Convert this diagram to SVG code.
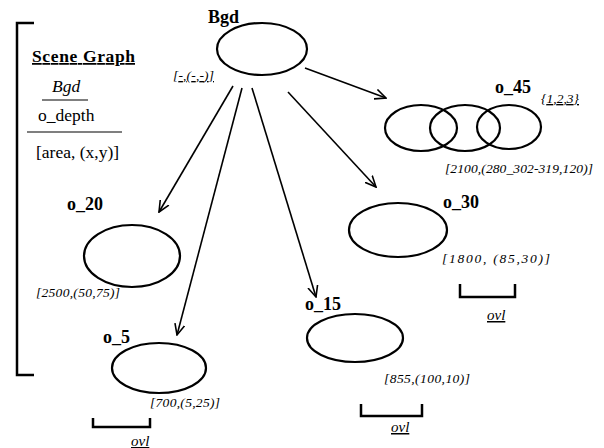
<svg xmlns="http://www.w3.org/2000/svg" width="604" height="448" viewBox="0 0 604 448">
<style>
.n{font-family:"Liberation Serif",serif;font-weight:bold;font-size:18px;fill:#000}
.c{font-family:"Liberation Serif",serif;font-style:italic;font-size:13.5px;fill:#000}
.e{fill:none;stroke:#000;stroke-width:2.2}
.k{fill:none;stroke:#000;stroke-width:2.5}
.a{fill:none;stroke:#000;stroke-width:1.6;marker-end:url(#ah)}
.l{font-family:"Liberation Serif",serif;font-size:17.5px;fill:#000}
.o{font-family:"Liberation Serif",serif;font-style:italic;font-size:15px;fill:#000;text-decoration:underline}
</style>
<defs>
<marker id="ah" viewBox="0 0 12 12" refX="11" refY="6" markerWidth="12" markerHeight="12" markerUnits="userSpaceOnUse" orient="auto">
<path d="M0,1 L11,6 L0,11" fill="none" stroke="#000" stroke-width="1.6"/>
</marker>
</defs>
<rect width="604" height="448" fill="#fff"/>
<g id="legend">
<path class="k" d="M34,23 H17 V375 H34"/>
<text class="l" x="32" y="62" font-weight="bold" text-decoration="underline" textLength="103">Scene Graph</text>
<text class="l" x="52" y="92" font-style="italic">Bgd</text>
<line x1="42" y1="100" x2="88" y2="100" stroke="#000" stroke-width="1.2"/>
<text class="l" x="38" y="121">o_depth</text>
<line x1="27" y1="132" x2="122" y2="132" stroke="#000" stroke-width="1.2"/>
<text class="l" x="36" y="158">[area, (x,y)]</text>
</g>
<g id="connectors">
<line class="a" x1="233" y1="86" x2="159" y2="212"/>
<line class="a" x1="242" y1="88" x2="177" y2="335"/>
<line class="a" x1="252" y1="88" x2="316" y2="297"/>
<line class="a" x1="288" y1="92" x2="376" y2="187"/>
<line class="a" x1="305" y1="68" x2="386" y2="98"/>
</g>
<g id="Bgd">
<ellipse class="e" cx="262" cy="49" rx="45" ry="26"/>
<text class="n" x="208" y="23">Bgd</text>
<text class="c" x="173" y="80" text-decoration="underline" textLength="41">[-,(-,-)]</text>
</g>
<g id="o_45">
<ellipse class="e" cx="421" cy="128" rx="36" ry="23"/>
<ellipse class="e" cx="465" cy="128" rx="35" ry="23"/>
<ellipse class="e" cx="509" cy="127" rx="32" ry="22"/>
<text class="n" x="495" y="93">o_45</text>
<text class="c" x="541" y="103" text-decoration="underline" textLength="38">{1,2,3}</text>
<text class="c" x="445" y="173" textLength="148">[2100,(280_302-319,120)]</text>
</g>
<g id="o_30">
<ellipse class="e" cx="398" cy="230" rx="49" ry="27"/>
<text class="n" x="443" y="208">o_30</text>
<text class="c" x="442" y="263" textLength="108">[1800, (85,30)]</text>
<path class="k" d="M460,284 V297 H515 V284"/>
<text class="o" x="487" y="320">ovl</text>
</g>
<g id="o_20">
<ellipse class="e" cx="132" cy="256" rx="48" ry="31"/>
<text class="n" x="67" y="210">o_20</text>
<text class="c" x="36" y="297" textLength="84">[2500,(50,75)]</text>
</g>
<g id="o_5">
<ellipse class="e" cx="159" cy="368" rx="47" ry="25"/>
<text class="n" x="103" y="343">o_5</text>
<text class="c" x="150" y="407" textLength="70">[700,(5,25)]</text>
<path class="k" d="M93,418 V427 H150 V418"/>
<text class="o" x="131" y="446">ovl</text>
</g>
<g id="o_15">
<ellipse class="e" cx="355" cy="338" rx="48" ry="24"/>
<text class="n" x="305" y="310">o_15</text>
<text class="c" x="384" y="383" textLength="86">[855,(100,10)]</text>
<path class="k" d="M361,404 V416 H422 V404"/>
<text class="o" x="391" y="432">ovl</text>
</g>
</svg>
